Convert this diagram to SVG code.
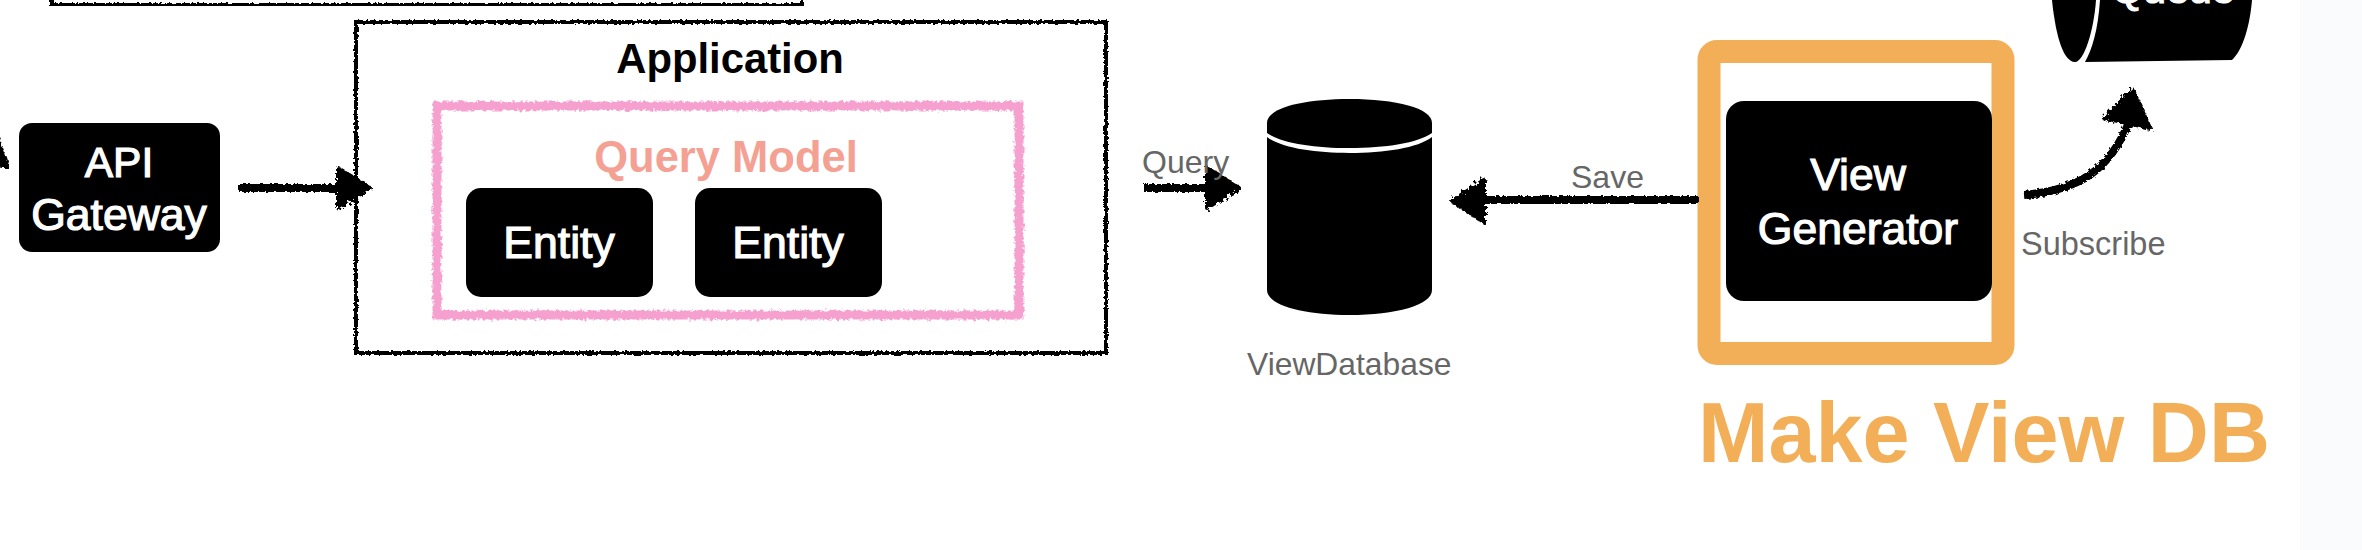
<svg xmlns="http://www.w3.org/2000/svg" width="2362" height="550" viewBox="0 0 2362 550">
<style>
.n{fill:#000}
.w{font-family:"Liberation Sans",Arial,sans-serif;fill:#fff;text-anchor:middle;stroke:#fff;stroke-width:1.200;font-size:44.500px}
.g{font-family:"Liberation Sans",Arial,sans-serif;fill:#666;font-size:32px}
.b{font-family:"Liberation Sans",Arial,sans-serif;font-weight:700;text-anchor:middle}
.sk{fill:none;stroke:#000;stroke-width:4}
.ar{fill:none;stroke:#000;stroke-width:8}
.hd{fill:#000;stroke:#000;stroke-width:4;stroke-linejoin:round}
</style>
<defs>
<filter id="r" x="-5%" y="-5%" width="110%" height="110%"><feTurbulence type="fractalNoise" baseFrequency="0.35" numOctaves="2" seed="4"/><feDisplacementMap in="SourceGraphic" scale="4"/></filter>
<filter id="p" x="-5%" y="-5%" width="110%" height="110%"><feTurbulence type="fractalNoise" baseFrequency="0.3" numOctaves="3" seed="9"/><feDisplacementMap in="SourceGraphic" scale="6"/></filter>
<filter id="h" x="-20%" y="-20%" width="140%" height="140%"><feTurbulence type="fractalNoise" baseFrequency="0.3" numOctaves="3" seed="2"/><feDisplacementMap in="SourceGraphic" scale="8"/></filter>
</defs>
<rect x="2300" y="0" width="62" height="550" fill="#fafbfd"/>
<g id="top-box"><path class="sk" filter="url(#r)" d="M52 -4V5H802V-4"/></g>
<g id="application"><rect class="sk" filter="url(#r)" x="356" y="22" width="750" height="331"/>
<text class="b" x="730" y="73" font-size="41.800">Application</text></g>
<g id="query-model"><rect x="437" y="106" width="582" height="209" fill="none" stroke="#f5a0cf" stroke-width="9" filter="url(#p)"/>
<text class="b" x="726" y="172" font-size="43.500" fill="#f4a093">Query Model</text></g>
<g id="api-gateway"><rect class="n" x="19" y="123" width="201" height="129" rx="13"/>
<text class="w" x="119" y="177" style="font-size:42.500px">API</text><text class="w" x="119" y="230">Gateway</text></g>
<g id="entity-1"><rect class="n" x="466" y="188" width="187" height="109" rx="15"/><text class="w" x="559" y="258">Entity</text></g>
<g id="entity-2"><rect class="n" x="695" y="188" width="187" height="109" rx="15"/><text class="w" x="788" y="258">Entity</text></g>
<g id="view-database"><path class="n" d="M1267 123C1267 108 1303 99 1349.500 99S1432 108 1432 123V133C1418 143 1385 148 1349.500 148S1281 143 1267 133Z"/>
<path class="n" d="M1267 137C1281 148 1315 153 1349.500 153S1418 148 1432 137V290C1432 305 1396 315 1349.500 315S1267 305 1267 290Z"/>
<text class="g" x="1247" y="375" style="font-size:31.800px">ViewDatabase</text></g>
<g id="view-generator"><rect x="1709" y="51.500" width="294" height="302" rx="8" fill="none" stroke="#f3af58" stroke-width="23"/>
<rect class="n" x="1726" y="101" width="266" height="200" rx="18"/>
<text class="w" x="1858" y="190">View</text><text class="w" x="1858" y="244">Generator</text></g>
<g id="queue"><path class="n" d="M2052 0C2055 30 2062 62 2075 62C2084 62 2094 30 2096 0Z"/>
<path class="n" d="M2100 0C2098 30 2092 50 2085 62L2232 60C2243 50 2250 25 2252 0Z"/>
<text class="w" x="2173" y="3" style="font-size:41px">Queue</text></g>
<g id="make-view-db"><text class="b" style="text-anchor:start" x="1698" y="462" font-size="84.600" fill="#f3af58">Make View DB</text></g>
<g id="connectors">
<g filter="url(#r)">
<path class="ar" d="M238 188H345"/>
<path class="ar" d="M1144 188H1215"/>
<path class="ar" d="M1698 200H1470"/>
<path class="ar" d="M2024 195C2080 190 2110 170 2130 120"/>
</g>
<g filter="url(#h)">
<path class="hd" d="M-4 133L7 166L-4 164Z"/>
<path class="hd" d="M338 168L370 188L338 208Z"/>
<path class="hd" d="M1207 168L1239 188L1207 208Z"/>
<path class="hd" d="M1484 180L1452 201L1484 222Z"/>
<path class="hd" d="M2133 90L2104 118L2150 128Z"/>
</g>
<text class="g" x="1142" y="173">Query</text>
<text class="g" x="1571" y="188">Save</text>
<text class="g" x="2021" y="255" style="font-size:32.500px">Subscribe</text>
</g>
</svg>
